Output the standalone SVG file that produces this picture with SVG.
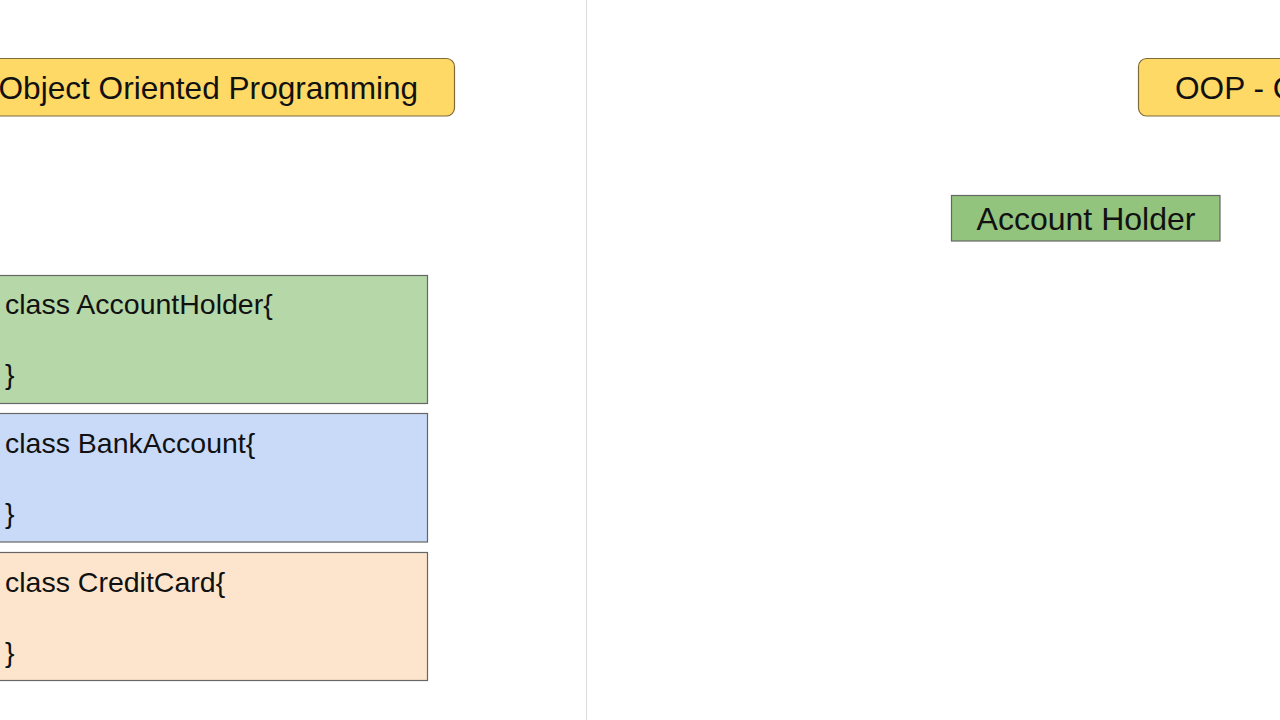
<svg xmlns="http://www.w3.org/2000/svg" width="1280" height="720" viewBox="0 0 1280 720">
<style>
text{font-family:"Liberation Sans",Arial,sans-serif;fill:#111}
.title{fill:#ffd966;stroke:#7f6a3a;stroke-width:1.2}
.cls{stroke:#666;stroke-width:1.2}
.code{font-size:28.5px}
</style>
<rect width="1280" height="720" fill="#fff"/>
<line x1="586.5" y1="0" x2="586.5" y2="720" stroke="#dcdcdc" stroke-width="1"/>
<g id="title-left">
<rect class="title" x="-12" y="58.5" width="466.5" height="57.5" rx="8"/>
<text x="-1.5" y="99" font-size="31.6">Object Oriented Programming</text>
</g>
<g id="title-right">
<rect class="title" x="1138.5" y="58.5" width="160" height="57.5" rx="8"/>
<text x="1175" y="99" font-size="31.6">OOP - C</text>
</g>
<g id="account-holder">
<rect x="951.5" y="195.5" width="268.5" height="45.5" fill="#93c47d" stroke="#666" stroke-width="1.2"/>
<text x="1086" y="230" font-size="32" text-anchor="middle">Account Holder</text>
</g>
<g id="class-accountholder">
<rect class="cls" x="-2" y="275.5" width="429.5" height="128" fill="#b6d7a8"/>
<text class="code" x="5" y="314">class AccountHolder{</text>
<text class="code" x="5" y="384">}</text>
</g>
<g id="class-bankaccount">
<rect class="cls" x="-2" y="413.5" width="429.5" height="128.5" fill="#c9daf8"/>
<text class="code" x="5" y="453">class BankAccount{</text>
<text class="code" x="5" y="523">}</text>
</g>
<g id="class-creditcard">
<rect class="cls" x="-2" y="552.5" width="429.5" height="128" fill="#fde5cd"/>
<text class="code" x="5" y="592">class CreditCard{</text>
<text class="code" x="5" y="662">}</text>
</g>
<g id="connectors"></g>
</svg>
